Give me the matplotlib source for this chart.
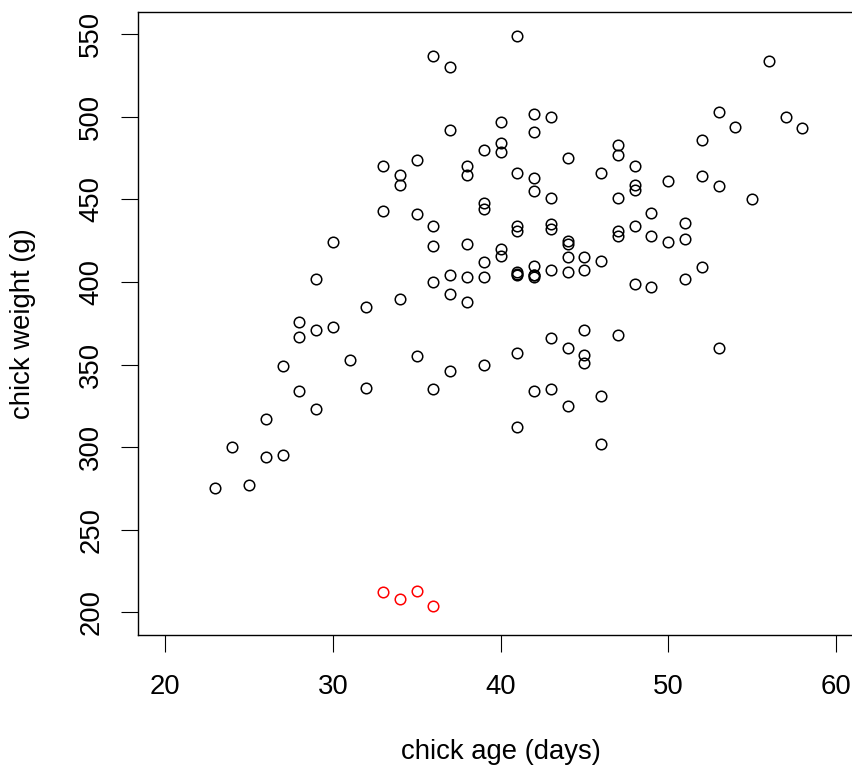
import matplotlib
matplotlib.use("Agg")
import matplotlib.pyplot as plt

plt.rcParams["font.family"] = ["Liberation Sans", "DejaVu Sans"]

# chicks weighed at a given age (days) -> weight (g)
age_ok = [23, 24, 25, 26, 26, 27, 27, 28, 28, 28, 29, 29, 29, 30, 30, 31, 32, 32,
          33, 33, 34, 34, 34, 35, 35, 35, 36, 36, 36, 36, 36,
          37, 37, 37, 37, 37, 38, 38, 38, 38, 38, 39, 39, 39, 39, 39, 39,
          40, 40, 40, 40, 40, 41, 41, 41, 41, 41, 41, 41, 41, 41,
          42, 42, 42, 42, 42, 42, 42, 42, 42, 43, 43, 43, 43, 43, 43, 43,
          44, 44, 44, 44, 44, 44, 44, 45, 45, 45, 45, 45, 46, 46, 46, 46,
          47, 47, 47, 47, 47, 47, 48, 48, 48, 48, 48, 49, 49, 49, 50, 50,
          51, 51, 51, 52, 52, 52, 53, 53, 53, 54, 55, 56, 57, 58]
weight_ok = [275, 300, 277, 317, 294, 349, 295, 376, 367, 334, 402, 371, 323, 424, 373, 353, 385, 336,
             470, 443, 465, 459, 390, 474, 441, 355, 537, 434, 422, 400, 335,
             530, 492, 404, 393, 346, 470, 465, 423, 403, 388, 480, 448, 444, 412, 403, 350,
             497, 484, 479, 420, 416, 549, 466, 434, 431, 406, 405, 404, 357, 312,
             502, 491, 463, 455, 410, 404, 404, 403, 334, 500, 451, 435, 432, 407, 366, 335,
             475, 425, 423, 415, 406, 360, 325, 415, 407, 371, 356, 351, 466, 413, 331, 302,
             483, 477, 451, 431, 428, 368, 470, 459, 456, 434, 399, 442, 428, 397, 461, 424,
             436, 426, 402, 486, 464, 409, 503, 458, 360, 494, 450, 534, 500, 493]

# the four underweight chicks drawn in red
age_low = [33, 34, 35, 36]
weight_low = [212, 208, 213, 204]

fig = plt.figure(figsize=(8.53, 7.69), dpi=100)
ax = fig.add_axes([0.1621, 0.17425, 0.8494, 0.8101])

ax.plot(age_ok, weight_ok, linestyle="none", marker="o", markersize=7.6,
        markerfacecolor="none", markeredgecolor="black", markeredgewidth=1.1)
ax.plot(age_low, weight_low, linestyle="none", marker="o", markersize=7.6,
        markerfacecolor="none", markeredgecolor="red", markeredgewidth=1.1)

ax.set_xlim(18.4, 61.6)
ax.set_ylim(186.25, 563.5)
ax.set_xticks([20, 30, 40, 50, 60])
ax.set_yticks([200, 250, 300, 350, 400, 450, 500, 550])

for s in ax.spines.values():
    s.set_linewidth(1.0)

ax.tick_params(axis="both", direction="out", length=12, width=0.8,
               labelsize=19.8, color="black")
ax.tick_params(axis="x", pad=16)
ax.tick_params(axis="y", pad=12.5, labelrotation=90)
for lab in ax.get_yticklabels():
    lab.set_va("center")

ax.set_xlabel("chick age (days)", fontsize=19.8, va="center")
ax.set_ylabel("chick weight (g)", fontsize=19.8, va="center", ha="center")
ax.xaxis.set_label_coords(0.5, -0.1878)
ax.yaxis.set_label_coords(-0.159, 0.5)

fig.savefig("out.png", dpi=100)
